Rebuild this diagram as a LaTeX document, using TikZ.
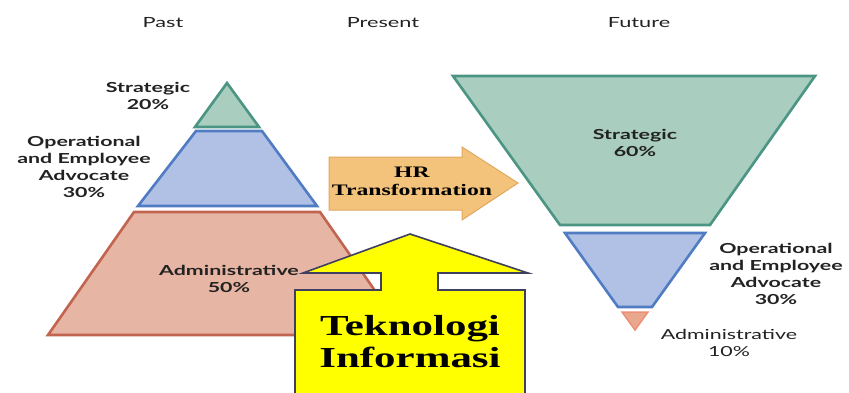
\documentclass[tikz,border=0pt]{standalone}
\usepackage{fontspec}
\newfontfamily\lblfont[FakeStretch=1.55]{Lato}
\newfontfamily\serifwide[FakeStretch=1.48]{Liberation Serif}
\definecolor{greenF}{HTML}{A9CDBF}
\definecolor{greenD}{HTML}{4A9583}
\definecolor{blueF}{HTML}{B0C1E5}
\definecolor{blueD}{HTML}{4F7CC2}
\definecolor{redF}{HTML}{E7B5A3}
\definecolor{redD}{HTML}{C26550}
\definecolor{redS}{HTML}{E9A88E}
\definecolor{orangeF}{HTML}{F3C37C}
\definecolor{orangeD}{HTML}{E2A85E}
\definecolor{yellowD}{HTML}{3F3F5F}
\definecolor{yellowF}{HTML}{FFFF00}
\definecolor{txt}{HTML}{222222}
\begin{document}
\begin{tikzpicture}[x=1pt,y=-1pt,
  layer/.style={line width=2.6pt,line join=miter},
  lbl/.style={font=\lblfont\bfseries\fontsize{13.8}{17}\selectfont,text=txt,align=center,inner sep=0pt},
  ttl/.style={font=\lblfont\fontsize{14}{16}\selectfont,text=txt,inner sep=0pt},
  serif/.style={font=\serifwide\bfseries,text=black,align=center,inner sep=0pt}]
\useasboundingbox (0,0) rectangle (849,392);
\clip (0,0) rectangle (849,392);
\fill[white] (0,0) rectangle (849,392);

% titles
\node[ttl] (past) at (163,23) {Past};
\node[ttl] (present) at (383,23) {Present};
\node[ttl] (future) at (639,23) {Future};

% left pyramid
\draw[layer,fill=greenF,draw=greenD] (195,127) -- (259,127) -- (227,83) -- cycle;
\draw[layer,fill=blueF,draw=blueD] (196,131) -- (262,131) -- (317,206) -- (138,206) -- cycle;
\draw[layer,fill=redF,draw=redD] (134,212) -- (320,212) -- (406,335) -- (48,335) -- cycle;

\node[lbl] (ls) at (148,96) {Strategic\\20\%};
\node[lbl] (lo) at (84,167) {Operational\\and Employee\\Advocate\\30\%};
\node[lbl] (la) at (229,279) {Administrative\\50\%};

% right pyramid
\draw[layer,fill=greenF,draw=greenD] (453,76) -- (815,76) -- (710,225) -- (560,225) -- cycle;
\draw[layer,fill=blueF,draw=blueD] (565,233) -- (705,233) -- (652,307) -- (618,307) -- cycle;
\draw[line width=1.5pt,fill=redS,draw=redS!85!red] (622,312) -- (648,312) -- (635,330) -- cycle;

\node[lbl] (rs) at (635,143) {Strategic\\60\%};
\node[lbl] (ro) at (776,274) {Operational\\and Employee\\Advocate\\30\%};
\node[lbl,font=\lblfont\fontsize{13.8}{17}\selectfont] (ra) at (729,343) {Administrative\\10\%};

% HR transformation arrow
\draw[line width=1pt,fill=orangeF,draw=orangeD,line join=miter]
  (329,157) -- (462,157) -- (462,147) -- (518,183) -- (462,220) -- (462,210) -- (329,210) -- cycle;
\node[serif,font=\serifwide\bfseries\fontsize{16}{18}\selectfont] (hr) at (412,181) {HR\\Transformation};

% Teknologi Informasi callout
\draw[line width=1.6pt,fill=yellowF,draw=yellowD,line join=miter]
  (410,234) -- (528,273) -- (438,273) -- (438,290) -- (525,290) -- (525,400)
  -- (295,400) -- (295,290) -- (381,290) -- (381,273) -- (303,273) -- cycle;
\node[serif,font=\serifwide\bfseries\fontsize{29}{32}\selectfont] (ti) at (410,342) {Teknologi\\Informasi};
\end{tikzpicture}
\end{document}
